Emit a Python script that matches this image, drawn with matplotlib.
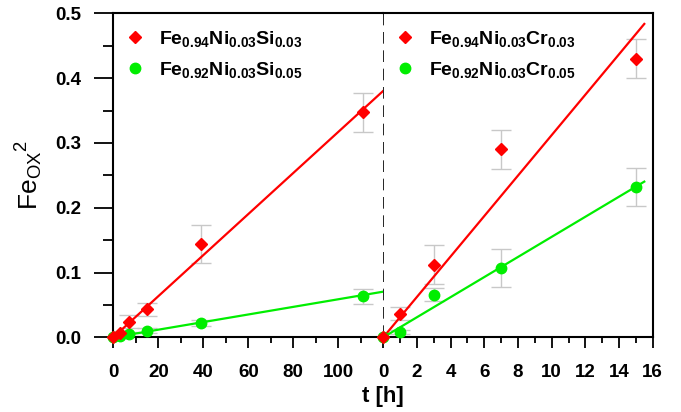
import matplotlib
matplotlib.use('Agg')
import matplotlib.pyplot as plt
from matplotlib.ticker import MultipleLocator

plt.rcParams['font.family'] = 'Liberation Sans'
plt.rcParams['font.weight'] = 'bold'
plt.rcParams['mathtext.fontset'] = 'custom'
plt.rcParams['mathtext.rm'] = 'Liberation Sans:weight=normal'
plt.rcParams['mathtext.bf'] = 'Liberation Sans:bold'
plt.rcParams['mathtext.it'] = 'Liberation Sans:italic'

# Si alloys, long exposure (h)
t_si = [0, 3, 7, 15, 39, 111]
fe_si03 = [0, 0.007, 0.024, 0.043, 0.144, 0.347]
err_si03 = [0, 0.003, 0.01, 0.01, 0.03, 0.03]
fe_si05 = [0, 0.002, 0.005, 0.010, 0.022, 0.063]
err_si05 = [0, 0.002, 0.003, 0.004, 0.005, 0.011]

# Cr alloys, short exposure (h)
t_cr = [0, 1, 3, 7, 15]
fe_cr03 = [0, 0.036, 0.112, 0.290, 0.430]
err_cr03 = [0, 0.01, 0.03, 0.03, 0.03]
fe_cr05 = [0, 0.008, 0.066, 0.107, 0.232]
err_cr05 = [0, 0.003, 0.01, 0.03, 0.03]

# linear fits through origin
fit_t_si = [0, 120]
slope_si03 = 0.00317
slope_si05 = 0.000587
fit_t_cr = [0, 15.5]
slope_cr03 = 0.0312
slope_cr05 = 0.0155

lab_si03 = r'$\mathbf{Fe_{0.94}Ni_{0.03}Si_{0.03}}$'
lab_si05 = r'$\mathbf{Fe_{0.92}Ni_{0.03}Si_{0.05}}$'
lab_cr03 = r'$\mathbf{Fe_{0.94}Ni_{0.03}Cr_{0.03}}$'
lab_cr05 = r'$\mathbf{Fe_{0.92}Ni_{0.03}Cr_{0.05}}$'

red = '#ff0000'
green = '#00ee00'
errc = '#c8c8c8'

fig = plt.figure(figsize=(6.81, 4.12), dpi=100)
L, R, B, T = 113.3 / 681, 652.7 / 681, 1 - 337.3 / 412, 1 - 13.3 / 412
M = 383.3 / 681
ax1 = fig.add_axes([L, B, M - L, T - B])
ax2 = fig.add_axes([M, B, R - M, T - B], sharey=ax1)


def draw(ax, t, y1, e1, y2, e2, ft, s1, s2, l1, l2):
    ax.errorbar(t, y1, yerr=e1, fmt='none', ecolor=errc, elinewidth=1,
                capsize=7.5, capthick=1, zorder=1)
    ax.errorbar(t, y2, yerr=e2, fmt='none', ecolor=errc, elinewidth=1,
                capsize=7.5, capthick=1, zorder=1)
    ax.plot(ft, [s1 * x for x in ft], color=red, lw=1.6, zorder=2)
    ax.plot(ft, [s2 * x for x in ft], color=green, lw=1.6, zorder=2)
    ax.plot(t, y1, 'D', color=red, ms=5.8, ls='none', label=l1,
            zorder=4, clip_on=False)
    ax.plot(t, y2, 'o', color=green, ms=7.5, ls='none', label=l2,
            zorder=3, clip_on=False)
    ax.legend(loc='upper left', frameon=False, fontsize=14,
              handlelength=0.8, handletextpad=0.85, labelspacing=0.6,
              borderaxespad=0.3, bbox_to_anchor=(0.0, 0.995))


draw(ax1, t_si, fe_si03, err_si03, fe_si05, err_si05, fit_t_si,
     slope_si03, slope_si05, lab_si03, lab_si05)
draw(ax2, t_cr, fe_cr03, err_cr03, fe_cr05, err_cr05, fit_t_cr,
     slope_cr03, slope_cr05, lab_cr03, lab_cr05)

ax2.axvline(0, color='black', lw=1.2, ls=(0, (7, 4)), zorder=0)

ax1.set_xlim(0, 120)
ax2.set_xlim(0, 16)
ax1.set_ylim(0, 0.5)

ax1.set_xticks([0, 20, 40, 60, 80, 100])
ax1.xaxis.set_minor_locator(MultipleLocator(10))
ax2.xaxis.set_major_locator(MultipleLocator(2))
ax2.xaxis.set_minor_locator(MultipleLocator(1))
ax1.yaxis.set_major_locator(MultipleLocator(0.1))
ax1.yaxis.set_minor_locator(MultipleLocator(0.05))
ax1.yaxis.set_major_formatter(plt.FormatStrFormatter('%.1f'))

for ax in (ax1, ax2):
    for sp in ax.spines.values():
        sp.set_linewidth(1.5)
    ax.tick_params(axis='x', which='major', direction='out', length=8,
                   width=1.3, pad=11, labelsize=13.5)
    ax.tick_params(axis='x', which='minor', direction='out', length=4.5,
                   width=1.3)
ax1.spines['right'].set_visible(False)
ax2.spines['left'].set_visible(False)
ax1.tick_params(axis='y', which='major', direction='out', length=14,
                width=1.3, pad=9, labelsize=13.5)
ax1.tick_params(axis='y', which='minor', direction='out', length=7,
                width=1.3)
ax2.tick_params(axis='y', which='both', left=False, labelleft=False)

fig.text(0.043, (B + T) / 2, r'$\mathrm{Fe}_{\mathrm{OX}}{}^{\mathrm{2}}$',
         rotation=90, ha='center', va='center', fontsize=19,
         fontweight='normal')
fig.text(M, 0.038, 't [h]', ha='center', va='center', fontsize=16,
         fontweight='bold')

fig.savefig('out.png', dpi=100)
